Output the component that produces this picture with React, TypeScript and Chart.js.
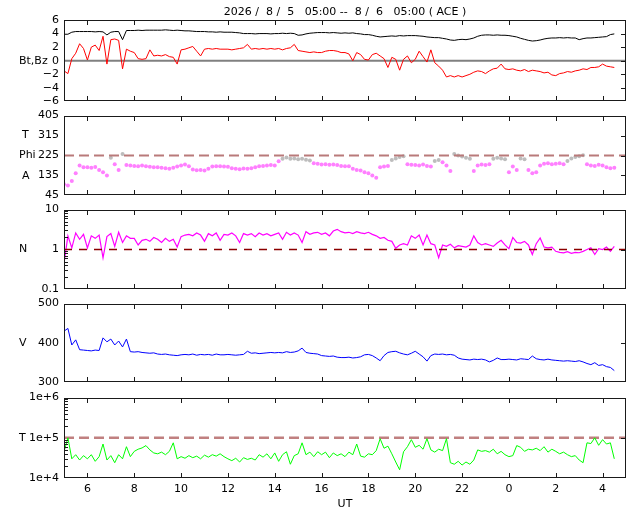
import React, { useEffect, useRef } from 'react';
import Chart from 'chart.js/auto';

// ACE real-time solar wind, 2026/8/5 05:00 -> 8/6 05:00 UT
// values read off the plot at 10-minute steps (one row per UT hour)
const START_HOUR = 5;
const STEP_HOURS = 1 / 6;

const BT = [
  3.9, 3.9, 4.2, 4.3, 4.3, 4.3,
  4.3, 4.3, 4.25, 4.3, 4.25, 3.8,
  4.2, 4.3, 4.3, 3.1, 4.45, 4.45,
  4.45, 4.5, 4.45, 4.5, 4.5, 4.5,
  4.5, 4.5, 4.55, 4.5, 4.45, 4.5,
  4.45, 4.4, 4.4, 4.35, 4.3, 4.3,
  4.3, 4.25, 4.25, 4.2, 4.25, 4.2,
  4.2, 4.2, 4.15, 4.1, 4.0, 4.0,
  4.0, 3.95, 4.0, 4.0, 4.0, 3.95,
  4.0, 4.0, 4.05, 4.0, 4.05, 4.0,
  3.75, 3.8, 3.95, 4.05, 4.1, 4.15,
  4.15, 4.15, 4.1, 4.15, 4.1, 4.05,
  4.1, 4.05, 4.1, 4.0, 3.95, 3.85,
  3.85, 3.75, 3.6, 3.5, 3.55, 3.6,
  3.65, 3.6, 3.7, 3.65, 3.7, 3.7,
  3.7, 3.65, 3.6, 3.5, 3.45, 3.4,
  3.4, 3.3, 3.2, 3.05, 3.0, 3.1,
  3.15, 3.1, 3.2, 3.35, 3.6, 3.75,
  3.8, 3.8, 3.75, 3.8, 3.75, 3.75,
  3.7, 3.6, 3.5, 3.3, 3.15, 3.0,
  2.9, 2.95, 3.05, 3.2, 3.3, 3.35,
  3.35, 3.4, 3.35, 3.4, 3.35, 3.35,
  3.1, 3.25, 3.35, 3.35, 3.4, 3.45,
  3.5, 3.55, 3.85, 3.95,
];

const BZ = [
  -1.5, -1.9, 0.3, 1.1, 2.5, 1.8,
  0.1, 2.0, 2.3, 1.5, 3.6, -0.5,
  3.1, 3.2, 3.0, -1.2, 1.7, 1.4,
  1.2, 0.3, 0.2, 0.3, 1.6, 0.7,
  0.8, 0.7, 0.9, 0.6, 0.5, -0.5,
  1.6, 1.7, 1.9, 2.1, 1.4, 0.7,
  1.7, 1.8, 1.7, 1.8, 1.7, 1.7,
  1.7, 1.6, 1.7, 1.8, 1.9, 2.4,
  1.7, 1.8, 1.7, 1.8, 1.7, 1.8,
  1.7, 1.8, 1.6, 1.8, 1.9, 2.4,
  1.5, 1.4, 1.3, 1.2, 1.3, 1.2,
  1.2, 1.4, 1.5, 1.5, 1.4, 1.2,
  1.2, 1.0, 0.0, 1.2, 0.9, 0.2,
  0.1, 0.9, 1.1, 0.7, 0.3, -1.0,
  0.5, 0.2, -1.4, 0.2, 0.7, -0.3,
  0.2, 1.4, 0.6, -0.2, 1.6, -0.3,
  -0.8, -1.4, -2.4, -2.2, -2.4, -2.2,
  -2.4, -2.2, -2.0, -1.7, -1.5, -1.6,
  -1.9, -1.5, -1.2, -1.1, -0.5, -1.2,
  -1.3, -1.2, -1.4, -1.5, -1.3, -1.6,
  -1.4, -1.5, -1.6, -1.8, -1.7, -2.1,
  -2.2, -1.9, -1.8, -1.6, -1.7, -1.5,
  -1.4, -1.2, -1.3, -1.0, -1.0, -0.9,
  -0.5, -0.8, -0.9, -1.0,
];

const PHI = [
  95, 90, 110, 145, 180, 172,
  172, 170, 173, 160, 150, 135,
  215, 185, 160, 232, 182, 180,
  178, 176, 180, 177, 174, 172,
  172, 170, 168, 165, 170, 175,
  180, 184, 176, 162, 158, 160,
  157, 165, 175, 177, 176, 175,
  174, 168, 165, 163, 166, 165,
  168, 172, 176, 178, 180, 182,
  180, 199, 210, 216, 210, 212,
  208, 210, 206, 203, 190, 188,
  184, 185, 183, 184, 182, 178,
  177, 176, 165, 160, 157, 150,
  145, 135, 125, 172, 175, 178,
  205, 212, 218, 222, 185, 183,
  182, 180, 184, 178, 175, 200,
  205, 195, 180, 155, 232, 225,
  220, 215, 210, 155, 180, 184,
  182, 185, 210, 215, 212, 208,
  150, 175, 160, 212, 208, 160,
  145, 150, 180, 188, 190, 186,
  188, 190, 185, 200, 212, 218,
  222, 226, 185, 180, 178, 183,
  180, 172, 168, 170,
];

const DENSITY = [
  0.45, 2.2, 1.1, 2.6, 1.8, 2.4,
  1.1, 2.2, 1.9, 2.3, 0.62, 2.1,
  2.5, 1.2, 2.7, 1.5, 2.2, 1.9,
  1.9, 1.3, 1.7, 1.8, 1.6, 2.0,
  1.8, 1.5, 1.9, 1.6, 1.8, 1.15,
  2.1, 2.3, 2.4, 2.2, 2.6, 2.3,
  1.6, 2.5, 2.2, 2.6, 1.7, 2.4,
  2.3, 2.6, 2.2, 1.5, 2.5, 2.3,
  2.5, 2.1, 2.6, 2.3, 2.5, 2.2,
  2.4, 2.6, 1.8, 2.7, 2.3, 2.6,
  2.3, 1.5, 2.8, 2.4, 2.6, 2.7,
  2.4, 2.6, 2.2, 2.9, 3.2, 2.8,
  2.6, 2.7, 2.5, 2.8, 2.6, 2.5,
  2.7, 2.4, 2.2, 1.9, 2.0, 1.7,
  1.6, 1.07, 1.3, 1.4, 1.3, 2.2,
  1.9, 2.3, 1.3, 2.3, 1.4, 1.3,
  0.62, 1.3, 1.2, 1.35, 1.1, 1.25,
  1.2, 1.15, 1.3, 2.2, 1.5, 1.3,
  1.4, 1.3, 1.2, 1.45, 1.7, 1.3,
  1.05, 2.0, 1.5, 1.45, 1.6, 1.3,
  0.75, 1.4, 1.95, 1.15, 1.1, 1.15,
  0.9, 0.85, 0.82, 0.88, 0.8, 0.85,
  0.83, 0.9, 1.0, 1.1, 0.75, 1.05,
  1.0, 1.15, 0.9, 1.2,
];

const SPEED = [
  430, 437, 395, 408, 383, 382,
  381, 380, 382, 381, 413, 403,
  410, 395, 405, 390, 410, 378,
  377, 378, 376, 375, 374, 375,
  372, 371, 372, 370, 369, 368,
  370, 371, 370, 372, 369, 371,
  370, 371, 369, 372, 370, 370,
  371, 370, 369, 370, 371, 379,
  374, 375, 373, 374, 375, 376,
  375, 376, 375, 378, 376, 377,
  380, 387, 376, 374, 373, 372,
  368, 367, 366, 367, 364, 363,
  363, 364, 362, 363, 365, 370,
  371, 368, 362, 355, 368, 376,
  378, 379, 375, 372, 370, 374,
  379, 372, 365, 354, 368, 372,
  371, 372, 370, 371, 369, 362,
  359, 358, 357, 359, 358, 359,
  357, 352, 356, 362, 358, 358,
  359, 358, 357, 360, 359, 358,
  367, 360, 358, 357, 359, 357,
  356, 355, 354, 355, 354, 353,
  355, 352, 348, 345, 350, 343,
  345, 340, 338, 330,
];

const TEMP = [
  45000, 100000, 30000, 38000, 28000, 36000,
  30000, 38000, 26000, 34000, 70000, 28000,
  36000, 24000, 38000, 30000, 60000, 34000,
  46000, 52000, 56000, 64000, 50000, 42000,
  40000, 44000, 38000, 46000, 75000, 30000,
  34000, 31000, 36000, 32000, 35000, 30000,
  37000, 33000, 38000, 35000, 40000, 34000,
  30000, 27000, 31000, 25000, 32000, 29000,
  31000, 28000, 38000, 33000, 40000, 30000,
  42000, 26000, 38000, 45000, 22000, 36000,
  40000, 75000, 38000, 44000, 34000, 45000,
  38000, 44000, 32000, 42000, 36000, 40000,
  34000, 44000, 38000, 70000, 35000, 33000,
  40000, 38000, 48000, 95000, 55000, 62000,
  40000, 25000, 16000, 45000, 60000, 90000,
  58000, 65000, 52000, 95000, 50000, 44000,
  52000, 48000, 95000, 24000, 22000, 26000,
  21000, 25000, 22000, 28000, 50000, 46000,
  48000, 44000, 52000, 40000, 46000, 38000,
  34000, 36000, 64000, 58000, 46000, 52000,
  50000, 55000, 48000, 60000, 44000, 52000,
  46000, 40000, 44000, 38000, 34000, 36000,
  28000, 24000, 75000, 72000, 100000, 65000,
  90000, 70000, 75000, 30000,
];

// reference levels
const BZ_ZERO = 0;
const PHI_REF = 225;
const N_REF = 1;
const T_REF = 1e5;
const PHI_TOWARD = 200; // points above this are drawn grey

const X_MIN = 5;
const X_MAX = 29;
const X_TICKS = [6, 8, 10, 12, 14, 16, 18, 20, 22, 24, 26, 28];
const X_TICK_LABELS = ['6', '8', '10', '12', '14', '16', '18', '20', '22', '0', '2', '4'];

const B_TICKS = [-6, -4, -2, 0, 2, 4, 6];
const B_TICK_LABELS = ['−6', '−4', '−2', '0', '2', '4', '6'];
const PHI_TICKS = [45, 135, 225, 315, 405];
const PHI_TICK_LABELS = ['45', '135', '225', '315', '405'];
const N_TICKS = [0.1, 1, 10];
const N_TICK_LABELS = ['0.1', '1', '10'];
const V_TICKS = [300, 400, 500];
const V_TICK_LABELS = ['300', '400', '500'];
const T_TICKS = [1e4, 1e5, 1e6];
const T_TICK_LABELS = ['1e+4', '1e+5', '1e+6'];

const TITLE = '2026 /  8 /  5   05:00 --  8 /  6   05:00 ( ACE )';
const FONT = '"DejaVu Sans", sans-serif';

Chart.defaults.font.family = FONT;
Chart.defaults.font.size = 11;
Chart.defaults.color = '#000';

const toPoints = (values: number[]) =>
  values.map((v, i) => ({ x: START_HOUR + i * STEP_HOURS, y: v }));
const level = (v: number) => [{ x: X_MIN, y: v }, { x: X_MAX, y: v }];

// gnuplot-like frame: border, inward ticks, log minor ticks, side labels
const gnuFrame = {
  id: 'gnuFrame',
  afterDraw(chart: any, _args: any, opts: any) {
    const { ctx, chartArea: a } = chart;
    const xs = chart.scales.x;
    const ys = chart.scales.y;
    const left = Math.round(a.left);
    const right = Math.round(a.right);
    const top = Math.round(a.top);
    const bottom = Math.round(a.bottom);
    ctx.save();
    ctx.setLineDash([]);
    ctx.fillStyle = '#1a1a1a';
    for (const v of X_TICKS) {
      const px = Math.round(xs.getPixelForValue(v));
      ctx.fillRect(px, top, 1, 5);
      ctx.fillRect(px, bottom - 5, 1, 5);
    }
    const majors: number[] = Array.from(opts.yTicks || []);
    for (const v of majors) {
      const py = Math.round(ys.getPixelForValue(v));
      if (py <= top + 1 || py >= bottom - 1) continue;
      ctx.fillRect(right - 5, py, 5, 1);
    }
    if (opts.log || ys.type === 'logarithmic') {
      const e0 = Math.round(Math.log10(majors[0]));
      const e1 = Math.round(Math.log10(majors[majors.length - 1]));
      for (let e = e0; e < e1; e++) {
        for (let k = 2; k <= 9; k++) {
          const py = Math.round(ys.getPixelForValue(k * Math.pow(10, e)));
          ctx.fillRect(left, py, 4, 1);
        }
      }
    }
    ctx.strokeStyle = '#1a1a1a';
    ctx.lineWidth = 1;
    ctx.strokeRect(left + 0.5, top + 0.5, right - left - 1, bottom - top - 1);

    ctx.fillStyle = '#000';
    ctx.font = `11px ${FONT}`;
    ctx.textBaseline = 'middle';
    ctx.textAlign = 'left';
    for (const l of opts.labels || []) {
      ctx.fillText(l.text, l.x, ys.getPixelForValue(l.value));
    }
    if (opts.title) {
      ctx.textAlign = 'center';
      ctx.fillText(opts.title, (a.left + a.right) / 2, 12.5);
    }
    ctx.restore();
  },
};

interface PanelLabel {
  text: string;
  value: number;
  x: number;
}

interface PanelProps {
  top: number;
  height: number;
  padTop: number;
  padBottom: number;
  yType: 'linear' | 'logarithmic';
  yMin: number;
  yMax: number;
  yTicks: number[];
  yTickLabels: string[];
  labels: PanelLabel[];
  datasets: any[];
  showX?: boolean;
  title?: string;
}

const Panel: React.FC<PanelProps> = (p) => {
  const canvasRef = useRef<HTMLCanvasElement>(null);

  useEffect(() => {
    if (!canvasRef.current) return;
    const chart = new Chart(canvasRef.current, {
      type: 'line',
      data: { datasets: p.datasets },
      plugins: [gnuFrame],
      options: {
        animation: false,
        responsive: false,
        maintainAspectRatio: false,
        layout: { padding: { left: 0, right: 14, top: p.padTop, bottom: p.padBottom } },
        elements: {
          line: { borderWidth: 1, tension: 0 },
          point: { radius: 0 },
        },
        plugins: {
          legend: { display: false },
          tooltip: { enabled: false },
          gnuFrame: {
            yTicks: p.yTicks,
            log: p.yType === 'logarithmic',
            labels: p.labels,
            title: p.title,
          },
        } as any,
        scales: {
          x: {
            type: 'linear',
            min: X_MIN,
            max: X_MAX,
            display: !!p.showX,
            afterBuildTicks: (s: any) => {
              s.ticks = X_TICKS.map((v) => ({ value: v }));
            },
            afterFit: (s: any) => {
              s.height = p.showX ? 33 : 0;
            },
            grid: { display: false, drawTicks: false },
            border: { display: false },
            ticks: {
              padding: 5,
              maxRotation: 0,
              autoSkip: false,
              callback: (_v: any, i: number) => X_TICK_LABELS[i],
            },
            title: { display: true, text: 'UT', padding: { top: 0, bottom: 0 } },
          },
          y: {
            type: p.yType,
            min: p.yMin,
            max: p.yMax,
            afterBuildTicks: (s: any) => {
              s.ticks = p.yTicks.map((v) => ({ value: v }));
            },
            afterFit: (s: any) => {
              s.width = 64;
            },
            grid: { display: false, drawTicks: false },
            border: { display: false },
            ticks: {
              padding: 5,
              autoSkip: false,
              callback: (_v: any, i: number) => p.yTickLabels[i],
            },
          },
        },
      },
    });
    return () => {
      chart.destroy();
    };
  }, []);

  return (
    <canvas
      ref={canvasRef}
      width={640}
      height={p.height}
      style={{ position: 'absolute', left: 0, top: p.top, width: 640, height: p.height }}
    />
  );
};

export default function App() {
  return (
    <div
      style={{
        position: 'absolute',
        left: 0,
        top: 0,
        width: 640,
        height: 512,
        background: '#fff',
        overflow: 'hidden',
      }}
    >
      <Panel
        top={0}
        height={113}
        padTop={20}
        padBottom={10}
        yType="linear"
        yMin={-6}
        yMax={6}
        yTicks={B_TICKS}
        yTickLabels={B_TICK_LABELS}
        title={TITLE}
        labels={[{ text: 'Bt,Bz', value: 0, x: 19 }]}
        datasets={[
          { data: toPoints(BT), borderColor: '#000000' },
          { data: toPoints(BZ), borderColor: '#ff0000' },
          { data: level(BZ_ZERO), borderColor: '#808080', borderWidth: 2 },
        ]}
      />
      <Panel
        top={104}
        height={103}
        padTop={10}
        padBottom={10}
        yType="linear"
        yMin={45}
        yMax={405}
        yTicks={PHI_TICKS}
        yTickLabels={PHI_TICK_LABELS}
        labels={[
          { text: 'T', value: 315, x: 22 },
          { text: 'Phi', value: 225, x: 19 },
          { text: 'A', value: 130, x: 22 },
        ]}
        datasets={[
          { data: level(PHI_REF), borderColor: '#b97a7a', borderWidth: 2, borderDash: [10, 5] },
          {
            data: toPoints(PHI),
            showLine: false,
            pointRadius: 2,
            pointBorderWidth: 0,
            pointBackgroundColor: (c: any) => (c.raw && c.raw.y >= PHI_TOWARD ? '#bdbdbd' : '#ff80ff'),
          },
        ]}
      />
      <Panel
        top={198}
        height={103}
        padTop={10}
        padBottom={10}
        yType="logarithmic"
        yMin={0.1}
        yMax={10}
        yTicks={N_TICKS}
        yTickLabels={N_TICK_LABELS}
        labels={[{ text: 'N', value: 1, x: 19 }]}
        datasets={[
          { data: level(N_REF), borderColor: '#8b0000', borderWidth: 1.3, borderDash: [8, 7] },
          { data: toPoints(DENSITY), borderColor: '#ff00ff', borderWidth: 1.2 },
        ]}
      />
      <Panel
        top={292}
        height={102}
        padTop={10}
        padBottom={10}
        yType="linear"
        yMin={300}
        yMax={500}
        yTicks={V_TICKS}
        yTickLabels={V_TICK_LABELS}
        labels={[{ text: 'V', value: 400, x: 19 }]}
        datasets={[{ data: toPoints(SPEED), borderColor: '#0000ff' }]}
      />
      <Panel
        top={386}
        height={125}
        padTop={10}
        padBottom={0}
        yType="logarithmic"
        yMin={1e4}
        yMax={1e6}
        yTicks={T_TICKS}
        yTickLabels={T_TICK_LABELS}
        showX
        labels={[{ text: 'T', value: 1e5, x: 19 }]}
        datasets={[
          { data: toPoints(TEMP), borderColor: '#00ff00' },
          { data: level(T_REF), borderColor: '#c08080', borderWidth: 2.5, borderDash: [10, 5] },
        ]}
      />
    </div>
  );
}
